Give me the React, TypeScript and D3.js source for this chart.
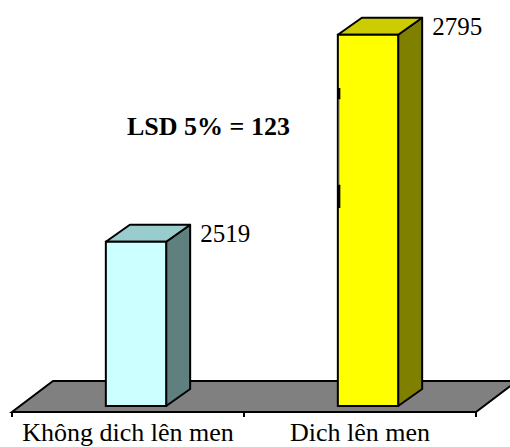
import React from "react";
import * as d3 from "d3";

// Yield by treatment, with the LSD reference shown on the taller bar
const categories = ["Không dich lên men", "Dich lên men"];
const values = [2519, 2795];
const lsdText = "LSD 5% = 123";
const errLow = [null, 2564] as (number | null)[];
const errHigh = [null, 2724] as (number | null)[];
const errInnerLow = [null, 2595] as (number | null)[];
const errInnerHigh = [null, 2709] as (number | null)[];

const frontColors = ["#CCFFFF", "#FFFF00"];
const topColors = ["#99CCCC", "#CCCC00"];
const sideColors = ["#608080", "#808000"];

const W = 510;
const H = 447;

export default function App() {
  const floorFront = 412;
  const floorBack = 381;
  const floorDx = 41;
  const x = d3.scaleBand<string>().domain(categories).range([12, 476]).paddingInner(0).paddingOuter(0);
  const y = d3.scaleLinear().domain([2300, 2800]).range([406, 31]);

  // bars stand in the middle of the floor depth
  const barDepthShift = 8;
  const barW = x.bandwidth() * 0.26;
  const dx = 24;
  const dy = -17;

  const base = y.domain()[0];
  const font = "'Liberation Serif', 'Times New Roman', serif";

  return (
    <svg width={W} height={H} style={{ position: "absolute", left: 0, top: 0, display: "block", background: "#fff" }}>
      {/* floor */}
      <path
        d={`M${12},${floorFront} L${476},${floorFront} L${476 + floorDx},${floorBack} L${12 + floorDx},${floorBack} Z`}
        fill="#808080"
        stroke="#000"
        strokeWidth={2}
        strokeLinejoin="miter"
      />
      {/* category axis ticks */}
      {[12, ...categories.map((c) => (x(c) as number) + x.bandwidth())].map((tx, i) => (
        <line key={i} x1={tx} x2={tx} y1={floorFront} y2={floorFront + 5} stroke="#000" strokeWidth={2} />
      ))}
      {categories.map((c, i) => {
        const cx = (x(c) as number) + x.bandwidth() / 2 + barDepthShift;
        const x0 = cx - barW / 2;
        const x1 = cx + barW / 2;
        const yb = y(base);
        const yt = y(values[i]);
        const lo = errLow[i];
        const hi = errHigh[i];
        const ilo = errInnerLow[i];
        const ihi = errInnerHigh[i];
        return (
          <g key={c}>
            {/* side face */}
            <path
              d={`M${x1},${yb} L${x1 + dx},${yb + dy} L${x1 + dx},${yt + dy} L${x1},${yt} Z`}
              fill={sideColors[i]}
              stroke="#000"
              strokeWidth={2}
              strokeLinejoin="round"
            />
            {/* top face */}
            <path
              d={`M${x0},${yt} L${x1},${yt} L${x1 + dx},${yt + dy} L${x0 + dx},${yt + dy} Z`}
              fill={topColors[i]}
              stroke="#000"
              strokeWidth={2}
              strokeLinejoin="round"
            />
            {/* front face */}
            <rect x={x0} y={yt} width={x1 - x0} height={yb - yt} fill={frontColors[i]} stroke="#000" strokeWidth={2} />
            {lo != null && hi != null && ilo != null && ihi != null && (
              <g>
                <line x1={x0 + 1} x2={x0 + 1} y1={y(hi)} y2={y(lo)} stroke="#555" strokeWidth={1} />
                <line x1={x0 + 1} x2={x0 + 1} y1={y(hi)} y2={y(ihi)} stroke="#000" strokeWidth={3} />
                <line x1={x0 + 1} x2={x0 + 1} y1={y(ilo)} y2={y(lo)} stroke="#000" strokeWidth={3} />
              </g>
            )}
            <text x={x1 + dx + 10} y={yt} fontFamily={font} fontSize={25} fill="#000">
              {values[i]}
            </text>
            <text
              x={(x(c) as number) + x.bandwidth() / 2}
              y={441}
              textAnchor="middle"
              fontFamily={font}
              fontSize={26}
              fill="#000"
            >
              {c}
            </text>
          </g>
        );
      })}
      <text x={127} y={135} fontFamily={font} fontSize={26} fontWeight="bold" fill="#000">
        {lsdText}
      </text>
    </svg>
  );
}
